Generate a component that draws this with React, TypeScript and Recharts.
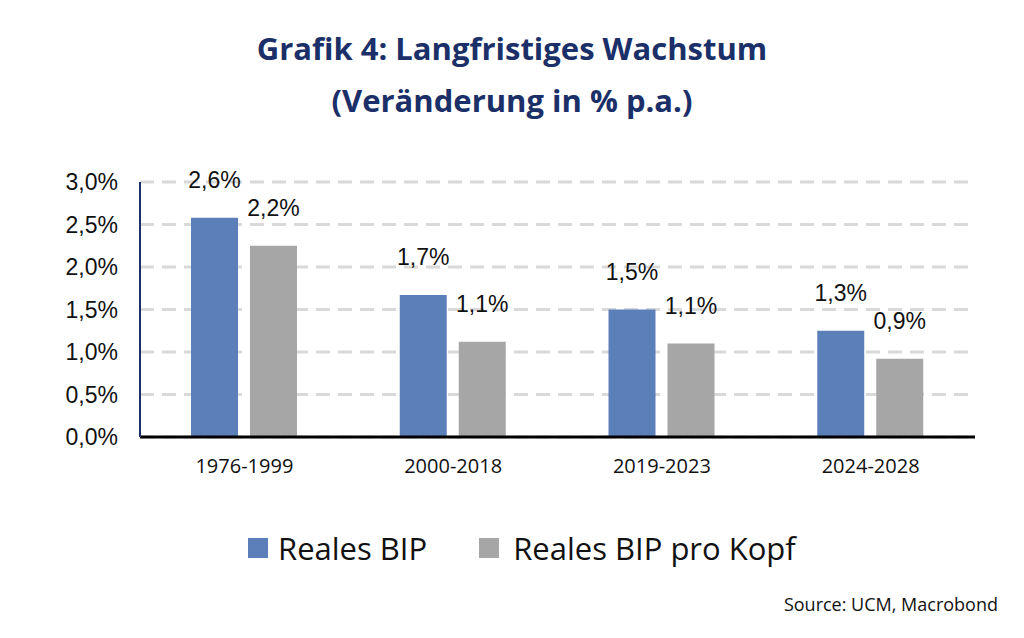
import React from 'react';
import { BarChart, Bar, XAxis, YAxis, CartesianGrid, LabelList } from 'recharts';

const periods = ['1976-1999', '2000-2018', '2019-2023', '2024-2028'];
const realGdp = [2.58, 1.67, 1.5, 1.25];
const realGdpPerCapita = [2.25, 1.12, 1.1, 0.92];
const realGdpLabels = ['2,6%', '1,7%', '1,5%', '1,3%'];
const perCapitaLabels = ['2,2%', '1,1%', '1,1%', '0,9%'];
const yTicks = [0, 0.5, 1, 1.5, 2, 2.5, 3];

const data = periods.map((p, i) => ({
  period: p,
  gdp: realGdp[i],
  perCapita: realGdpPerCapita[i],
  gdpLabel: realGdpLabels[i],
  perCapitaLabel: perCapitaLabels[i],
}));

const BLUE = '#5b7fb9';
const GRAY = '#a6a6a6';
const NAVY = '#1b2f68';

const fmt = (v: number) => v.toFixed(1).replace('.', ',') + '%';

const makeLabel = (labels: string[]) => (props: any) => {
  const { x, y, width, index } = props;
  return (
    <text x={x + width / 2} y={y - 30} textAnchor="middle" fill="#111"
      style={{ fontSize: 23, fontFamily: 'Liberation Sans, Arial, sans-serif' }}>
      {labels[index]}
    </text>
  );
};

const XTick = (props: any) => (
  <text x={props.x} y={props.y + 28} textAnchor="middle" fill="#111"
    style={{ fontSize: 20, fontFamily: '"Open Sans", sans-serif' }}>
    {props.payload.value}
  </text>
);

const YTick = (props: any) => (
  <text x={props.x + 8} y={props.y + 8} textAnchor="end" fill="#111"
    style={{ fontSize: 23, fontFamily: 'Liberation Sans, Arial, sans-serif' }}>
    {fmt(props.payload.value)}
  </text>
);

export default function App() {
  return (
    <div style={{ position: 'absolute', left: 0, top: 0, width: 1024, height: 638, background: '#fff', fontFamily: '"Open Sans", sans-serif' }}>
      <div style={{ position: 'absolute', top: 22, left: 0, width: 1024, textAlign: 'center', color: NAVY, fontWeight: 700, fontSize: 31, lineHeight: '52px' }}>
        Grafik 4: Langfristiges Wachstum<br />(Veränderung in % p.a.)
      </div>
      <BarChart width={1024} height={638} data={data}
        margin={{ top: 182, right: 49, bottom: 161, left: 0 }}
        barCategoryGap="24.6%" barGap={12}>
        <CartesianGrid vertical={false} stroke="#d9d9d9" strokeWidth={3} strokeDasharray="14 8" />
        <XAxis dataKey="period" height={40} tickLine={false} axisLine={{ stroke: '#000', strokeWidth: 3 }}
          tick={<XTick />} />
        <YAxis width={140} domain={[0, 3]} ticks={yTicks} tickLine={false}
          axisLine={{ stroke: NAVY, strokeWidth: 2 }}
          tick={<YTick />} tickMargin={24} />
        <Bar dataKey="gdp" fill={BLUE} barSize={47} isAnimationActive={false}>
          <LabelList dataKey="gdpLabel" content={makeLabel(realGdpLabels)} />
        </Bar>
        <Bar dataKey="perCapita" fill={GRAY} barSize={47} isAnimationActive={false}>
          <LabelList dataKey="perCapitaLabel" content={makeLabel(perCapitaLabels)} />
        </Bar>
      </BarChart>
      <div style={{ position: 'absolute', top: 527, left: 248, display: 'flex', alignItems: 'center', fontSize: 31, color: '#111' }}>
        <span style={{ width: 20, height: 20, background: BLUE, display: 'inline-block', marginRight: 10 }} />
        <span>Reales BIP</span>
        <span style={{ width: 20, height: 20, background: GRAY, display: 'inline-block', marginLeft: 52, marginRight: 14 }} />
        <span>Reales BIP pro Kopf</span>
      </div>
      <div style={{ position: 'absolute', top: 592, right: 26, fontSize: 18, color: '#111' }}>
        Source: UCM, Macrobond
      </div>
    </div>
  );
}
